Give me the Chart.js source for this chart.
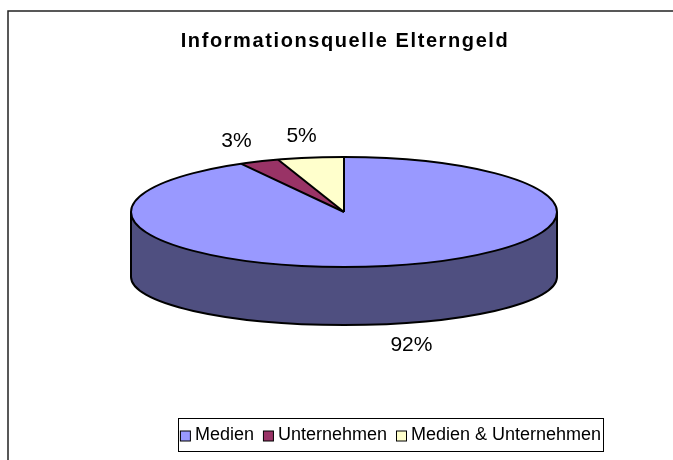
<!DOCTYPE html>
<html>
<head>
<meta charset="utf-8">
<script src="https://cdn.jsdelivr.net/npm/chart.js@4.4.1/dist/chart.umd.min.js"></script>
<style>
  html, body { margin: 0; padding: 0; background: #fff; }
  canvas { display: block; }
</style>
</head>
<body>
<canvas id="myChart" width="673" height="460"></canvas>
<script>
// data
const labels = ['Medien', 'Unternehmen', 'Medien & Unternehmen'];
const values = [92, 3, 5];
const topColors = ['#9999FF', '#993366', '#FFFFCC'];
const sideColors = ['#4F4F80', '#4D1A33', '#808066'];
const chartTitle = 'Informationsquelle Elterngeld';

// 3d look of the excel pie
const tilt = 55 / 213;   // ellipse height / width
const depth = 65;        // side wall height
const tiltBottom = 48 / 213;

const fontName = '"Liberation Sans", Arial, sans-serif';

const pie3d = {
  id: 'pie3d',
  beforeDraw: (chart) => {
    const ctx = chart.ctx;
    // outer frame (only left and top edges are in the picture)
    ctx.save();
    ctx.strokeStyle = '#222';
    ctx.lineWidth = 1.5;
    ctx.beginPath();
    ctx.moveTo(8, 460);
    ctx.lineTo(8, 11);
    ctx.lineTo(673, 11);
    ctx.stroke();
    ctx.restore();
  },
  beforeDatasetsDraw: (chart) => {
    const ctx = chart.ctx;
    const arcs = chart.getDatasetMeta(0).data;
    ctx.save();
    arcs.forEach((el, i) => {
      const {x, y, startAngle, endAngle, outerRadius} = el;
      const rx = outerRadius, ry = rx * tilt, ryB = rx * tiltBottom;
      for (let k = -1; k <= 1; k++) {
        const off = 2 * Math.PI * k;
        const a1 = Math.max(startAngle, off);
        const a2 = Math.min(endAngle, Math.PI + off);
        if (a2 <= a1) continue;
        ctx.beginPath();
        ctx.ellipse(x, y, rx, ry, 0, a1 - off, a2 - off);
        ctx.ellipse(x, y + depth, rx, ryB, 0, a2 - off, a1 - off, true);
        ctx.closePath();
        ctx.fillStyle = sideColors[i];
        ctx.fill();
      }
    });
    ctx.restore();
  },
  beforeDatasetDraw: (chart) => {
    const ctx = chart.ctx;
    const el = chart.getDatasetMeta(0).data[0];
    ctx.save();
    ctx.translate(el.x, el.y);
    ctx.scale(1, tilt);
    ctx.translate(-el.x, -el.y);
  },
  afterDatasetDraw: (chart) => {
    chart.ctx.restore();
  },
  afterDatasetsDraw: (chart) => {
    const ctx = chart.ctx;
    const arcs = chart.getDatasetMeta(0).data;
    const {x, y, outerRadius} = arcs[0];
    const rx = outerRadius, ry = rx * tilt, ryB = rx * tiltBottom;
    ctx.save();
    ctx.strokeStyle = '#000';
    ctx.lineWidth = 2;
    ctx.lineJoin = 'round';
    // side wall
    ctx.beginPath();
    ctx.moveTo(x + rx, y);
    ctx.lineTo(x + rx, y + depth);
    ctx.ellipse(x, y + depth, rx, ryB, 0, 0, Math.PI);
    ctx.lineTo(x - rx, y);
    ctx.stroke();
    // top face
    ctx.beginPath();
    ctx.ellipse(x, y, rx, ry, 0, 0, Math.PI * 2);
    ctx.stroke();
    arcs.forEach((el) => {
      ctx.beginPath();
      ctx.moveTo(x, y);
      ctx.lineTo(x + rx * Math.cos(el.startAngle), y + ry * Math.sin(el.startAngle));
      ctx.stroke();
    });

    // percentage labels
    const total = values.reduce((a, b) => a + b, 0);
    ctx.fillStyle = '#000';
    ctx.font = '21px ' + fontName;
    ctx.textAlign = 'center';
    ctx.textBaseline = 'middle';
    arcs.forEach((el, i) => {
      const mid = (el.startAngle + el.endAngle) / 2;
      const c = Math.cos(mid), s = Math.sin(mid);
      const lx = x + c * (rx + 58);
      const ly = s > 0 ? y + depth + s * (ryB + 22) : y + s * (ry + 22);
      ctx.fillText(Math.round(values[i] / total * 100) + '%', lx, ly);
    });
    ctx.restore();
  },
  afterDraw: (chart) => {
    const ctx = chart.ctx;
    ctx.save();
    // title
    ctx.fillStyle = '#000';
    ctx.font = 'bold 20px ' + fontName;
    ctx.letterSpacing = '1.6px';
    ctx.textAlign = 'center';
    ctx.textBaseline = 'alphabetic';
    ctx.fillText(chartTitle, 345, 47);
    ctx.letterSpacing = '0px';

    // legend with box
    const box = {left: 178, top: 418, width: 425, height: 33};
    ctx.strokeStyle = '#000';
    ctx.lineWidth = 1;
    ctx.strokeRect(box.left + 0.5, box.top + 0.5, box.width, box.height);
    ctx.font = '18px ' + fontName;
    ctx.textAlign = 'left';
    ctx.textBaseline = 'middle';
    const mark = 10, gapMark = 5, gapItem = 9;
    const widths = labels.map(t => ctx.measureText(t).width);
    const total = widths.reduce((a, b) => a + b, 0) + labels.length * (mark + gapMark) + (labels.length - 1) * gapItem;
    let lx = box.left + (box.width - total) / 2;
    const ly = box.top + box.height / 2 + 1;
    labels.forEach((t, i) => {
      ctx.fillStyle = topColors[i];
      ctx.fillRect(lx + 0.5, ly - mark / 2 + 0.5, mark, mark);
      ctx.strokeRect(lx + 0.5, ly - mark / 2 + 0.5, mark, mark);
      ctx.fillStyle = '#000';
      ctx.fillText(t, lx + mark + gapMark, ly);
      lx += mark + gapMark + widths[i] + gapItem;
    });
    ctx.restore();
  }
};

const config = {
  type: 'pie',
  data: {
    labels: labels,
    datasets: [{
      data: values,
      backgroundColor: topColors,
      borderWidth: 0
    }]
  },
  options: {
    responsive: false,
    animation: false,
    events: [],
    radius: 213,
    layout: {padding: {left: 15, right: 0, top: 0, bottom: 36}},
    plugins: {
      legend: {display: false},
      title: {display: false},
      tooltip: {enabled: false}
    }
  },
  plugins: [pie3d]
};

const ctx = document.getElementById('myChart').getContext('2d');
const myChart = new Chart(ctx, config);
</script>
</body>
</html>
